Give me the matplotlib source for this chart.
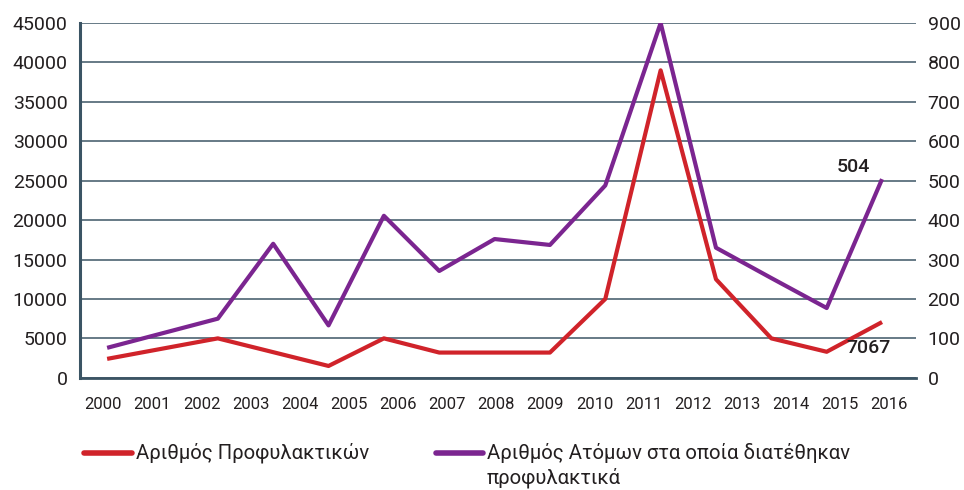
import numpy as np
import matplotlib
matplotlib.use("Agg")
import matplotlib.pyplot as plt
from matplotlib.lines import Line2D

plt.rcParams['font.family'] = ['Roboto', 'DejaVu Sans']

# data (15 points drawn, 17 year labels as in the original)
year_labels = ['2000', '2001', '2002', '2003', '2004', '2005', '2006', '2007', '2008',
               '2009', '2010', '2011', '2012', '2013', '2014', '2015', '2016']
condoms = [2400, 3700, 5000, 3250, 1500, 5000, 3200, 3200, 3200, 10000, 39000,
           12500, 5000, 3300, 7067]
people = [76, 113, 150, 340, 133, 411, 271, 352, 337, 488, 900, 330, 253, 177, 504]

red = '#d0232a'
purple = '#7b2590'
grid_c = '#5b707d'
spine_c = '#3b5464'
txt_c = '#231f20'

fig = plt.figure(figsize=(9.64, 4.9), dpi=100)
ax = fig.add_axes([0.083, 0.229, 0.867, 0.724])
ax2 = ax.twinx()

x = np.arange(len(condoms))
ax.plot(x, condoms, color=red, lw=3, solid_capstyle='butt', zorder=3)
ax2.plot(x, people, color=purple, lw=3, solid_capstyle='butt', zorder=3)

ax.set_xlim(-0.49, 14.61)
ax.set_ylim(0, 45000)
ax2.set_ylim(0, 900)
ax.set_yticks(np.arange(0, 45001, 5000))
ax2.set_yticks(np.arange(0, 901, 100))
ax.set_xticks(np.linspace(-0.07, 14.13, len(year_labels)))
ax.set_xticklabels(year_labels, fontsize=12, color=txt_c)

ax.grid(axis='y', color=grid_c, lw=1.3)
ax.set_axisbelow(True)
for a in (ax, ax2):
    for s in a.spines.values():
        s.set_visible(False)
ax.spines['left'].set_visible(True)
ax.spines['left'].set_color(spine_c)
ax.spines['left'].set_linewidth(2.2)
ax.spines['bottom'].set_visible(True)
ax.spines['bottom'].set_color(spine_c)
ax.spines['bottom'].set_linewidth(2)

ax.tick_params(axis='both', length=0)
ax2.tick_params(axis='both', length=0)
ax.tick_params(axis='y', labelsize=14, labelcolor=txt_c, pad=9)
ax.tick_params(axis='x', pad=14)
ax2.tick_params(axis='y', labelsize=14, labelcolor=txt_c, pad=8.5)

ax2.text(x[-1] - 0.52, 535, '504', fontsize=14, fontweight='medium',
         color=txt_c, ha='center', va='center')
ax.text(x[-1] - 0.25, 3800, '7067', fontsize=14, fontweight='medium',
        color=txt_c, ha='center', va='center')

# legend
fig.add_artist(Line2D([0.087, 0.137], [0.076, 0.076], color=red, lw=4,
                      solid_capstyle='round', transform=fig.transFigure))
fig.text(0.141, 0.076, 'Αριθμός Προφυλακτικών', fontsize=14.6, color=txt_c,
         va='center', ha='left')
fig.add_artist(Line2D([0.452, 0.501], [0.076, 0.076], color=purple, lw=4,
                      solid_capstyle='round', transform=fig.transFigure))
fig.text(0.505, 0.076, 'Αριθμός Ατόμων στα οποία διατέθηκαν', fontsize=14.6,
         color=txt_c, va='center', ha='left')
fig.text(0.505, 0.024, 'προφυλακτικά', fontsize=14.6, color=txt_c,
         va='center', ha='left')

fig.savefig('out.png', dpi=100)
